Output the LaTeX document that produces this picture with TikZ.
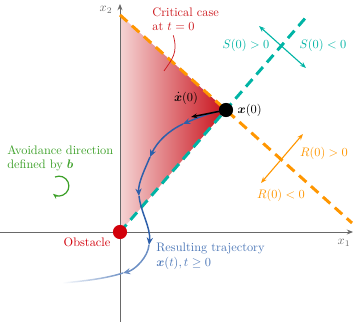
\documentclass[tikz,border=0pt]{standalone}
\usepackage{amsmath, amssymb}
\usepackage{bm}
\usetikzlibrary{arrows.meta, positioning, fadings}
\definecolor{AxisGray}{RGB}{105,105,105}
\definecolor{CritRed}{RGB}{205,25,30}
\definecolor{ObsRed}{RGB}{210,0,10}
\definecolor{ShadeLight}{RGB}{245,212,212}
\definecolor{ShadeDark}{RGB}{200,15,25}
\definecolor{SurfTeal}{RGB}{0,180,165}
\definecolor{SurfOrange}{RGB}{255,150,0}
\definecolor{TrajBlue}{RGB}{45,95,170}
\definecolor{AvoidGreen}{RGB}{60,160,40}
\tikzfading[name=tailfade, left color=transparent!100, right color=transparent!0]

\begin{document}
\begin{tikzpicture}[
    x=0.0285cm, y=-0.0285cm,
    axis/.style={AxisGray, line width=0.8pt, -{Stealth[length=5pt, width=4pt]}},
    surface/.style={line width=2.4pt, dash pattern=on 8pt off 5pt},
    traj/.style={TrajBlue, line width=1.2pt},
    trajarrow/.style={traj, -{Stealth[length=6pt, width=5pt]}},
    dot/.style={circle, inner sep=0pt, minimum size=11.5pt},
    sidearrow/.style={line width=0.9pt, {Stealth[length=5pt]}-{Stealth[length=5pt]}}
]
\useasboundingbox (0,0) rectangle (353,322);

\coordinate (p0) at (226,110);
\coordinate (pobs) at (120,232);
\coordinate (top) at (120,15);
\coordinate (tealend) at (308,15);
\coordinate (orangeend) at (352,223);

% critical region
\shade[left color=ShadeLight, right color=ShadeDark] (top) -- (p0) -- (pobs) -- cycle;

% axes
\coordinate (x1s) at (0,232);
\coordinate (x1e) at (353,232);
\coordinate (x2s) at (120,322);
\coordinate (x2e) at (120,4);
\draw[axis] (x1s) -- (x1e);
\draw[axis] (x2s) -- (x2e);
\node[AxisGray] (x1lab) at (344,243) {$x_1$};
\node[AxisGray] (x2lab) at (106,10) {$x_2$};

% switching surfaces
\draw[surface, SurfOrange] (top) -- (orangeend);
\draw[surface, SurfTeal] (pobs) -- (tealend);

\coordinate (s1) at (259,26);
\coordinate (s2) at (306,68);
\draw[sidearrow, SurfTeal] (s1) -- (s2);
\node[SurfTeal] (spos) at (246,45) {$S(0)>0$};
\node[SurfTeal] (sneg) at (323,45) {$S(0)<0$};

\coordinate (r1) at (261,183);
\coordinate (r2) at (303,134);
\draw[sidearrow, SurfOrange] (r1) -- (r2);
\node[SurfOrange] (rpos) at (324,153) {$R(0)>0$};
\node[SurfOrange] (rneg) at (281,195) {$R(0)<0$};

% trajectory
\coordinate (a1) at (183,124);
\coordinate (a2) at (150,157);
\coordinate (a3) at (139,196);
\coordinate (a4) at (149,245);
\coordinate (a5) at (123,273);
\coordinate (tailend) at (63,283);
\draw[trajarrow] (p0) .. controls (211,112) and (197,118) .. (a1);
\draw[trajarrow] (a1) .. controls (168,131) and (157,142) .. (a2);
\draw[trajarrow] (a2) .. controls (145,169) and (138,183) .. (a3);
\draw[trajarrow] (a3) .. controls (141,213) and (151,228) .. (a4);
\draw[trajarrow, TrajBlue!70] (a4) .. controls (148,257) and (135,270) .. (a5);
\draw[traj, TrajBlue!70, path fading=tailfade]
    (a5) .. controls (104,279) and (83,281) .. (tailend);

% points
\node[dot, fill=black] (x0) at (p0) {};
\node[dot, fill=ObsRed] (obs) at (pobs) {};
\coordinate (vtip) at (191,117);
\draw[line width=1.2pt, -{Stealth[length=5pt]}] (x0) -- (vtip);
\node[inner sep=1pt] (xdotlab) at (186,98) {$\dot{\bm x}(0)$};
\node[right=0pt of x0] (x0lab) {$\bm x(0)$};
\node[ObsRed] (obslab) at (87,242) {Obstacle};

% labels
\node[CritRed, align=left, anchor=north west] (crit) at (148,3) {Critical case\\at $t=0$};
\coordinate (critptr) at (164,71);
\draw[CritRed, line width=0.6pt] ([xshift=-10pt]crit.south) .. controls +(5,18) and +(8,-12) .. (critptr);

\node[TrajBlue!85, align=left, anchor=north west] (trajlab) at (152,239)
    {Resulting trajectory\\$\bm x(t), t\geq 0$};

\node[AvoidGreen, align=left, anchor=north west] (avoid) at (3,141)
    {Avoidance direction\\defined by $\bm b$};
\coordinate (turn) at (55,177);
\draw[AvoidGreen, line width=1pt, -{Stealth[length=4.5pt]}] (turn)
    arc[start angle=114, end angle=-128, radius=8pt];
\end{tikzpicture}
\end{document}
